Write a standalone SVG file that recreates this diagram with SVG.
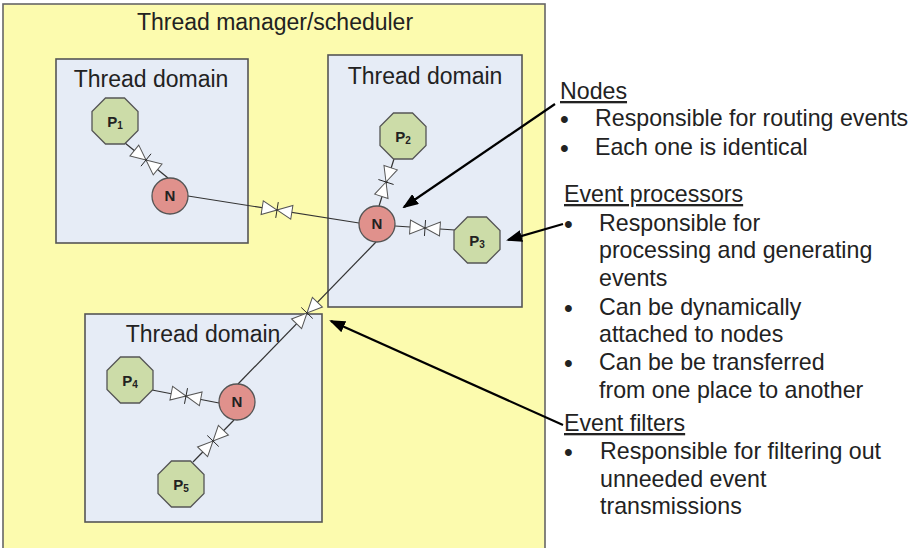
<svg xmlns="http://www.w3.org/2000/svg" xmlns:xlink="http://www.w3.org/1999/xlink" width="917" height="548" viewBox="0 0 917 548">
<style>
  text { font-family: "Liberation Sans", Arial, sans-serif; fill: #222; }
  .title { font-size: 23px; }
  .txt { font-size: 23.2px; }
  .bul { font-size: 25px; }
  .hdr { font-size: 23.2px; text-decoration: underline; }
  .domain { fill: #E6ECF6; stroke: #555; stroke-width: 1.6; }
  .proc { fill: #CCDCA8; stroke: #555; stroke-width: 1.3; }
  .node { fill: #E0918C; stroke: #555; stroke-width: 1.3; }
  .lbl { font-size: 15px; font-weight: bold; text-anchor: middle; }
  .sub { font-size: 10px; }
  .conn { stroke: #333; stroke-width: 1.2; fill: none; }
  .arrow { stroke: #000; stroke-width: 2.2; fill: none; marker-end: url(#ah); }
  .vtri { fill: #fff; stroke: #555; stroke-width: 1; }
  .vtick { stroke: #222; stroke-width: 0.9; }
</style>
<defs>
  <marker id="ah" markerWidth="16" markerHeight="12" refX="14" refY="6" orient="auto" markerUnits="userSpaceOnUse">
    <polygon points="0,0 16,6 0,12" fill="#000"/>
  </marker>
  <g id="valve">
    <polygon class="vtri" points="-15,-7 -15,7 0,0"/>
    <polygon class="vtri" points="15,-7 15,7 0,0"/>
    <line class="vtick" x1="0" y1="-8" x2="0" y2="8"/>
  </g>
  <polygon id="oct" points="-9.5,-23 9.5,-23 23,-9.5 23,9.5 9.5,23 -9.5,23 -23,9.5 -23,-9.5"/>
</defs>

<g id="manager">
  <rect x="3" y="4" width="542" height="560" fill="#FCFBAE" stroke="#666" stroke-width="1.6"/>
  <text class="title" x="275" y="30" text-anchor="middle">Thread manager/scheduler</text>
</g>

<g id="domain1">
  <rect class="domain" x="56" y="59" width="192" height="184"/>
  <text class="title" x="151" y="87" text-anchor="middle">Thread domain</text>
</g>
<g id="domain2">
  <rect class="domain" x="328" y="55" width="194" height="252"/>
  <text class="title" x="425" y="84" text-anchor="middle">Thread domain</text>
</g>
<g id="domain3">
  <rect class="domain" x="85" y="314" width="237" height="208"/>
  <text class="title" x="203" y="342" text-anchor="middle">Thread domain</text>
</g>

<g id="connectors">
  <line class="conn" x1="125" y1="143" x2="168" y2="178"/>
  <line class="conn" x1="188" y1="196" x2="359" y2="223"/>
  <line class="conn" x1="394" y1="159" x2="379" y2="206"/>
  <line class="conn" x1="395" y1="226" x2="455" y2="230"/>
  <line class="conn" x1="376" y1="242" x2="238" y2="384"/>
  <line class="conn" x1="152" y1="390" x2="219" y2="403"/>
  <line class="conn" x1="234" y1="420" x2="193" y2="462"/>
  <use xlink:href="#valve" href="#valve" transform="translate(146,160) rotate(39)"/>
  <use xlink:href="#valve" href="#valve" transform="translate(277,210) rotate(9)"/>
  <use xlink:href="#valve" href="#valve" transform="translate(386,182) rotate(108)"/>
  <use xlink:href="#valve" href="#valve" transform="translate(425,228) rotate(4)"/>
  <use xlink:href="#valve" href="#valve" transform="translate(307,313) rotate(134)"/>
  <use xlink:href="#valve" href="#valve" transform="translate(186,396) rotate(11)"/>
  <use xlink:href="#valve" href="#valve" transform="translate(213,441) rotate(134)"/>
  <line class="arrow" x1="555" y1="104" x2="404" y2="207"/>
  <line class="arrow" x1="563" y1="224" x2="508" y2="240"/>
  <line class="arrow" x1="563" y1="425" x2="331" y2="321"/>
</g>

<g id="P1">
  <use xlink:href="#oct" href="#oct" class="proc" transform="translate(115,121)"/>
  <text class="lbl" x="115" y="127">P<tspan class="sub" dy="2">1</tspan></text>
</g>
<g id="N1">
  <circle class="node" cx="170" cy="196" r="18"/>
  <text class="lbl" x="170" y="201">N</text>
</g>
<g id="P2">
  <use xlink:href="#oct" href="#oct" class="proc" transform="translate(403,136)"/>
  <text class="lbl" x="403" y="142">P<tspan class="sub" dy="2">2</tspan></text>
</g>
<g id="N2">
  <circle class="node" cx="377" cy="224" r="18"/>
  <text class="lbl" x="377" y="229">N</text>
</g>
<g id="P3">
  <use xlink:href="#oct" href="#oct" class="proc" transform="translate(477,240)"/>
  <text class="lbl" x="477" y="246">P<tspan class="sub" dy="2">3</tspan></text>
</g>
<g id="N3">
  <circle class="node" cx="237" cy="402" r="18"/>
  <text class="lbl" x="237" y="407">N</text>
</g>
<g id="P4">
  <use xlink:href="#oct" href="#oct" class="proc" transform="translate(130,380)"/>
  <text class="lbl" x="130" y="386">P<tspan class="sub" dy="2">4</tspan></text>
</g>
<g id="P5">
  <use xlink:href="#oct" href="#oct" class="proc" transform="translate(181,484)"/>
  <text class="lbl" x="181" y="490">P<tspan class="sub" dy="2">5</tspan></text>
</g>

<g id="legend">
  <text class="hdr" x="560" y="99">Nodes</text>
  <text class="bul" x="560" y="128">•</text>
  <text class="txt" x="595" y="126">Responsible for routing events</text>
  <text class="bul" x="560" y="157">•</text>
  <text class="txt" x="595" y="155">Each one is identical</text>

  <text class="hdr" x="564" y="202">Event processors</text>
  <text class="bul" x="564" y="233">•</text>
  <text class="txt" x="599" y="231">Responsible for</text>
  <text class="txt" x="599" y="258">processing and generating</text>
  <text class="txt" x="599" y="286">events</text>
  <text class="bul" x="564" y="317">•</text>
  <text class="txt" x="599" y="315">Can be dynamically</text>
  <text class="txt" x="599" y="342">attached to nodes</text>
  <text class="bul" x="564" y="372">•</text>
  <text class="txt" x="599" y="370">Can be be transferred</text>
  <text class="txt" x="599" y="398">from one place to another</text>

  <text class="hdr" x="564" y="431">Event filters</text>
  <text class="bul" x="564" y="461">•</text>
  <text class="txt" x="600" y="459">Responsible for filtering out</text>
  <text class="txt" x="600" y="487">unneeded event</text>
  <text class="txt" x="600" y="514">transmissions</text>
</g>
</svg>
